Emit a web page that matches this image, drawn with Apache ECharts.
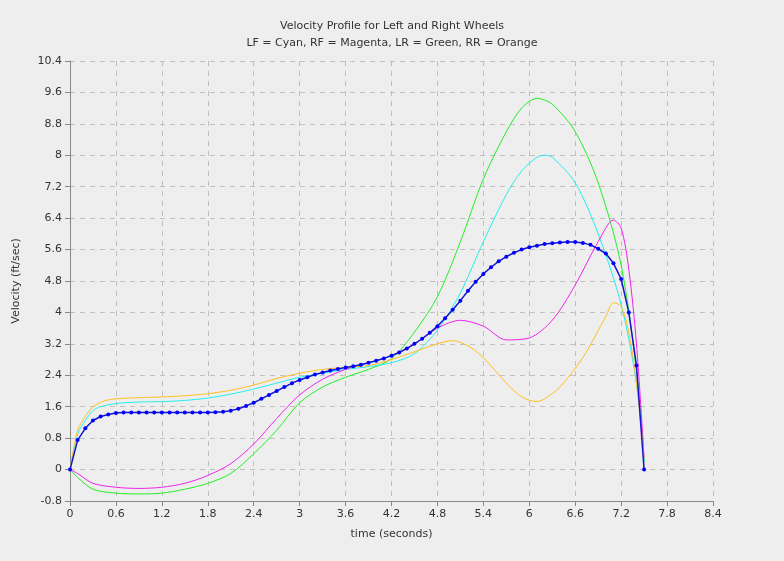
<!DOCTYPE html>
<html><head><meta charset="utf-8">
<script src="https://cdn.jsdelivr.net/npm/echarts@6/dist/echarts.min.js"></script>
<style>html,body{margin:0;background:#eeeeee}#c{width:784px;height:561px}</style>
</head><body><div id="c"></div>
<script>
// 平均速度（蓝色带点）
const avgT = [0,0.1,0.2,0.3,0.4,0.5,0.6,0.7,0.8,0.9,1.0,1.1,1.2,1.3,1.4,1.5,1.6,1.7,1.8,1.9,2.0,2.1,2.2,2.3,2.4,2.5,2.6,2.7,2.8,2.9,3.0,3.1,3.2,3.3,3.4,3.5,3.6,3.7,3.8,3.9,4.0,4.1,4.2,4.3,4.4,4.5,4.6,4.7,4.8,4.9,5.0,5.1,5.2,5.3,5.4,5.5,5.6,5.7,5.8,5.9,6.0,6.1,6.2,6.3,6.4,6.5,6.6,6.7,6.8,6.9,7.0,7.1,7.2,7.3,7.4,7.5];
const avgV = [0,0.75,1.05,1.25,1.35,1.4,1.44,1.45,1.45,1.45,1.45,1.45,1.45,1.45,1.45,1.45,1.45,1.45,1.45,1.46,1.47,1.5,1.55,1.62,1.7,1.8,1.9,2.0,2.1,2.2,2.28,2.35,2.42,2.47,2.52,2.56,2.6,2.63,2.67,2.72,2.77,2.83,2.9,2.98,3.08,3.2,3.33,3.48,3.65,3.85,4.07,4.3,4.55,4.78,4.98,5.15,5.3,5.42,5.52,5.6,5.66,5.7,5.74,5.76,5.78,5.79,5.79,5.77,5.72,5.62,5.5,5.25,4.85,4.0,2.65,0];

const lfT = [0,0.1,0.2,0.3,0.4,0.6,0.9,1.2,1.5,1.8,2.1,2.4,2.7,3.0,3.3,3.6,3.9,4.2,4.5,4.8,5.1,5.4,5.7,5.9,6.1,6.2,6.3,6.6,6.9,7.2,7.4,7.5];
const lfV = [0,0.9,1.25,1.5,1.6,1.68,1.72,1.73,1.76,1.82,1.92,2.05,2.2,2.35,2.45,2.55,2.62,2.72,2.95,3.55,4.5,5.8,7.0,7.6,7.95,8.0,7.95,7.3,6.0,4.2,2.2,0.2];

const rfT = [0,0.1,0.3,0.6,0.9,1.2,1.5,1.8,2.1,2.4,2.7,3.0,3.3,3.6,3.9,4.2,4.5,4.8,5.1,5.4,5.7,6.0,6.3,6.6,6.9,7.1,7.2,7.3,7.4,7.5];
const rfV = [0,-0.1,-0.35,-0.45,-0.48,-0.45,-0.35,-0.15,0.15,0.65,1.3,1.9,2.3,2.55,2.72,2.9,3.2,3.6,3.8,3.65,3.3,3.35,3.8,4.7,5.8,6.35,6.15,5.1,3.2,0.3];

const lrT = [0,0.1,0.3,0.6,0.9,1.2,1.5,1.8,2.1,2.4,2.7,3.0,3.3,3.6,3.9,4.2,4.5,4.8,5.1,5.4,5.7,5.9,6.1,6.3,6.6,6.9,7.2,7.4,7.5];
const lrV = [0,-0.2,-0.5,-0.6,-0.62,-0.6,-0.5,-0.35,-0.1,0.4,1.0,1.7,2.1,2.35,2.55,2.82,3.5,4.4,5.8,7.4,8.6,9.2,9.45,9.3,8.6,7.3,5.2,2.5,0.2];

const rrT = [0,0.1,0.2,0.3,0.45,0.6,0.9,1.2,1.5,1.8,2.1,2.4,2.7,3.0,3.3,3.6,3.9,4.2,4.5,4.8,5.0,5.2,5.4,5.7,5.9,6.1,6.2,6.4,6.7,7.0,7.1,7.2,7.3,7.4,7.5];
const rrV = [0,1.0,1.35,1.6,1.75,1.8,1.83,1.85,1.88,1.93,2.02,2.15,2.32,2.45,2.55,2.6,2.65,2.8,3.0,3.2,3.28,3.15,2.85,2.2,1.85,1.73,1.8,2.1,2.85,3.9,4.25,4.15,3.5,2.2,0.3];

const zip = (t, v) => t.map((x, i) => [x, v[i]]);
const line = (name, t, v, color) => ({
  name, type: 'line', data: zip(t, v), showSymbol: false, smooth: 0.3,
  lineStyle: { color, width: 1 }, itemStyle: { color }, animation: false
});

const chart = echarts.init(document.getElementById('c'));
const axisText = { color: '#333', fontSize: 11, fontFamily: 'DejaVu Sans' };
const gridLine = { show: true, lineStyle: { color: '#c0c0c0', type: [5, 5] } };
chart.setOption({
  backgroundColor: '#eeeeee',
  title: {
    text: 'Velocity Profile for Left and Right Wheels\nLF = Cyan, RF = Magenta, LR = Green, RR = Orange',
    left: 'center', top: 13,
    textStyle: { fontSize: 11, fontWeight: 'normal', color: '#333', fontFamily: 'DejaVu Sans', lineHeight: 17 }
  },
  grid: { left: 70, right: 71, top: 61, bottom: 60 },
  xAxis: {
    type: 'value', min: 0, max: 8.4, interval: 0.6,
    name: 'time (seconds)', nameLocation: 'middle', nameGap: 28,
    nameTextStyle: axisText, axisLabel: axisText,
    axisLine: { onZero: false, lineStyle: { color: '#888' } }, axisTick: { lineStyle: { color: '#888' } },
    splitLine: gridLine
  },
  yAxis: {
    type: 'value', min: -0.8, max: 10.4, interval: 0.8,
    name: 'Velocity (ft/sec)', nameLocation: 'middle', nameGap: 48,
    nameTextStyle: axisText,
    axisLabel: { ...axisText, formatter: v => +v.toFixed(1) },
    axisLine: { show: true, lineStyle: { color: '#888' } }, axisTick: { show: true, lineStyle: { color: '#888' } },
    splitLine: gridLine
  },
  series: [
    line('LR', lrT, lrV, '#22ee22'),
    line('LF', lfT, lfV, '#22eeee'),
    line('RF', rfT, rfV, '#ee22ee'),
    line('RR', rrT, rrV, '#ffc020'),
    {
      name: 'Avg', type: 'line', data: zip(avgT, avgV), symbol: 'circle', symbolSize: 4,
      lineStyle: { color: '#1515d0', width: 1.5 }, itemStyle: { color: '#0000ff' }, animation: false
    }
  ]
});
</script>
</body></html>
